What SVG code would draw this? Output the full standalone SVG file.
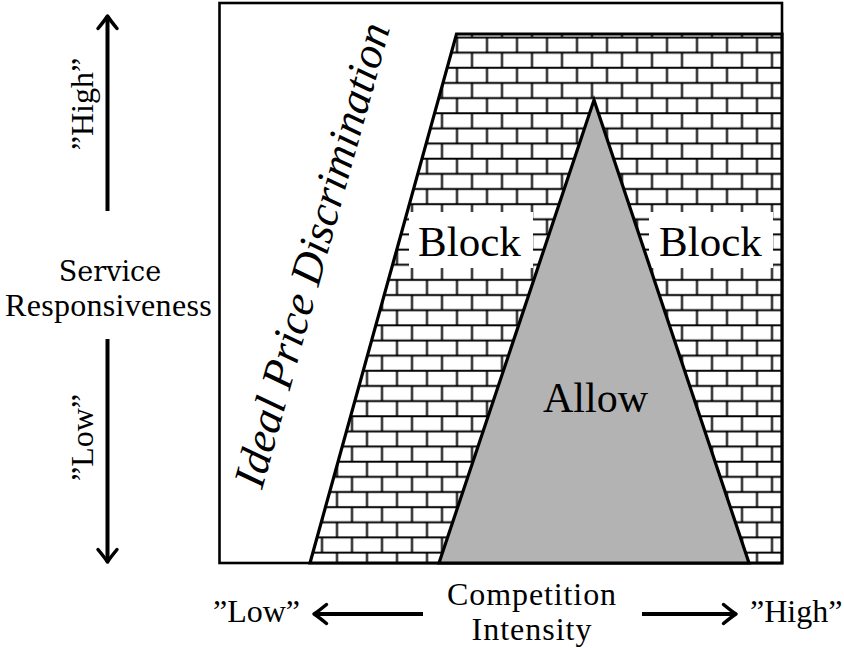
<svg xmlns="http://www.w3.org/2000/svg" width="844" height="648" viewBox="0 0 844 648">
  <defs>
    <pattern id="bricks" patternUnits="userSpaceOnUse" x="449.5" y="29.925" width="30" height="30.3">
      <rect x="0" y="0" width="30" height="30.3" fill="#fff"/>
      <path d="M0 7.575H30M0 22.725H30M7.5 7.575V22.725M22.5 22.725V30.3M22.5 0V7.575" stroke="#000" stroke-width="2" fill="none"/>
    </pattern>
    <marker id="arr" viewBox="-16 -13 20 26" refX="0" refY="0" markerWidth="20" markerHeight="26" markerUnits="userSpaceOnUse" orient="auto" overflow="visible">
      <path d="M-12.5,-9.5 Q-4,-2.5 0,0 Q-4,2.5 -12.5,9.5" fill="none" stroke="#000" stroke-width="3.5" stroke-linecap="round" stroke-linejoin="round"/>
    </marker>
  </defs>

  <g id="frame">
    <rect x="219.5" y="3" width="562.5" height="560" fill="#fff" stroke="#000" stroke-width="2.6"/>
  </g>

  <g id="block-region">
    <polygon points="310,563 456.5,34 782,34 782,563" fill="url(#bricks)" stroke="#000" stroke-width="3.2" stroke-linejoin="miter"/>
  </g>

  <g id="block-left">
    <rect x="409" y="212" width="124" height="56" fill="#fff"/>
    <text font-family="'Liberation Serif'" font-size="43" x="418" y="256">Block</text>
  </g>

  <g id="block-right">
    <rect x="649" y="212" width="124" height="56" fill="#fff"/>
    <text font-family="'Times New Roman'" font-size="43" x="659" y="256">Block</text>
  </g>

  <g id="allow">
    <polygon points="439,563 594,100 749,563" fill="#b3b3b3" stroke="#000" stroke-width="3.2" stroke-linejoin="miter"/>
    <text font-family="Tinos" font-size="42" x="543" y="412">Allow</text>
  </g>

  <g id="ideal-price-discrimination">
    <text font-family="'Liberation Serif'" font-size="44.5" font-style="italic" transform="translate(262,490) rotate(-74.5)">Ideal Price Discrimination</text>
  </g>

  <g id="service-axis" font-size="32">
    <text font-family="'DejaVu Serif'" font-size="27" x="110" y="281" text-anchor="middle">Service</text>
    <text font-family="'Liberation Serif'" letter-spacing="0.3" x="108.5" y="316" text-anchor="middle">Responsiveness</text>
    <text font-family="'Liberation Serif'" transform="translate(93,104) rotate(-90)" text-anchor="middle">&#8221;High&#8221;</text>
    <text font-family="'Liberation Serif'" transform="translate(93,437.5) rotate(-90)" text-anchor="middle">&#8221;Low&#8221;</text>
  </g>

  <g id="competition-axis" font-size="32">
    <text font-family="serif" letter-spacing="0.9" x="532" y="605" text-anchor="middle">Competition</text>
    <text letter-spacing="1" x="532" y="640" text-anchor="middle">Intensity</text>
    <text font-family="'Liberation Serif'" x="213" y="622">&#8221;Low&#8221;</text>
    <text font-family="'Liberation Serif'" x="750" y="622">&#8221;High&#8221;</text>
  </g>

  <g id="connectors" stroke="#000" stroke-width="4" fill="none" marker-end="url(#arr)">
    <line x1="107.5" y1="211" x2="107.5" y2="16"/>
    <line x1="107.5" y1="339" x2="107.5" y2="562"/>
    <line x1="423" y1="614" x2="314" y2="614"/>
    <line x1="642" y1="614" x2="736" y2="614"/>
  </g>
</svg>
